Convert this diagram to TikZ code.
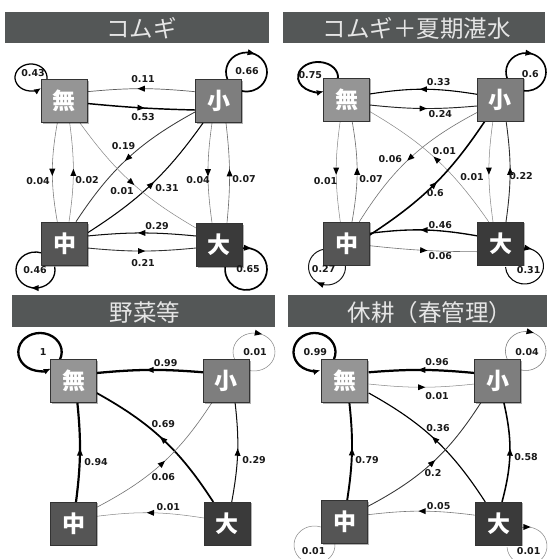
\documentclass[tikz,border=0pt]{standalone}
\usepackage{fontspec}
\setmainfont{DejaVu Sans}
\newfontfamily\jp{Noto Sans CJK JP}
\usetikzlibrary{calc,arrows.meta,decorations.markings,shadows}
\pgfdeclarelayer{background}
\pgfsetlayers{background,main}
\definecolor{barc}{HTML}{545757}
\definecolor{cmu}{HTML}{959595}
\definecolor{csho}{HTML}{7E7E7E}
\definecolor{cchu}{HTML}{555555}
\definecolor{cdai}{HTML}{3A3A3A}
\tikzset{
  wt/.code={\pgfmathsetmacro\wtc{min(100,45+170*#1)}\pgfmathsetmacro\wtw{0.5+1.8*#1}%
    \edef\wttmp{\noexpand\pgfkeysalso{line width=\wtw pt,draw=black!\wtc}}\wttmp},
  midarr/.style={postaction={decorate},decoration={markings,
    mark=at position #1 with {\fill[black,draw=none] (3.6pt,0pt) -- (-3.6pt,3pt) -- (-3.6pt,-3pt) -- cycle;}}},
  ed/.style={wt=#1,midarr=0.5},
  endarr/.style={-{Latex[length=7pt 0,width=6pt 0,color=black]}},
  nbox/.style={fill=#1,draw=black!80,line width=0.6pt,minimum width=46pt,minimum height=43pt,
    inner sep=0pt,text=white,font=\jp\bfseries\fontsize{23}{23}\selectfont,
    drop shadow={shadow xshift=1.5pt,shadow yshift=-1.5pt,opacity=0.3,fill=black}},
  lbl/.style={inner sep=0pt,text=black!90,font=\bfseries\fontsize{9.5}{9.5}\selectfont},
  tbar/.style={fill=barc,draw=none},
  ttl/.style={anchor=base,inner sep=0pt,text=black!10,font=\jp\fontsize{23.5}{23.5}\selectfont}
}
% edge: weight, from node, offset, to node, offset, bend
\newcommand\Ed[6]{\draw[ed=#1] ($(#2)+(#3)$) to[bend right=#6] ($(#4)+(#5)$);}
% loop with mid arrow: weight, node, center offset, rx, ry, t0, t1, pos
\newcommand\LpM[8]{\draw[wt=#1,midarr=#8] ($(#2)+(#3)$) ++(#6:#4pt and #5pt)
  arc[start angle=#6,end angle=#7,x radius=#4pt,y radius=#5pt];}
% loop with end arrow
\newcommand\LpE[7]{\draw[wt=#1,endarr] ($(#2)+(#3)$) ++(#6:#4pt and #5pt)
  arc[start angle=#6,end angle=#7,x radius=#4pt,y radius=#5pt];}
\begin{document}
\begin{tikzpicture}[x=1pt,y=-1pt]
\useasboundingbox (0,0) rectangle (547,559);
% ---------- title bars ----------
\node[tbar,minimum width=264pt,minimum height=31pt,inner sep=0pt] (b1) at (137,27.5) {};
\node[tbar,minimum width=262pt,minimum height=31pt,inner sep=0pt] (b2) at (414,27.5) {};
\node[tbar,minimum width=263pt,minimum height=32pt,inner sep=0pt] (b3) at (143.5,311) {};
\node[tbar,minimum width=259pt,minimum height=32pt,inner sep=0pt] (b4) at (417.5,311) {};
\node[ttl] (t1) at (141.5,37.5) {コムギ};
\node[ttl] (t2) at (416.5,37.5) {コムギ＋夏期湛水};
\node[ttl] (t3) at (145,321.5) {野菜等};
\node[ttl] (t4) at (430,321.5) {休耕（春管理）};
% ---------- nodes ----------
\node[nbox=cmu]  (am) at (64,101) {無};
\node[nbox=csho] (as) at (218.5,101) {小};
\node[nbox=cchu] (ac) at (64.5,244) {中};
\node[nbox=cdai] (ad) at (219,244.7) {大};
\node[nbox=cmu]  (bm) at (346.7,99.5) {無};
\node[nbox=csho] (bs) at (500,99.5) {小};
\node[nbox=cchu] (bc) at (346.7,243.3) {中};
\node[nbox=cdai] (bd) at (500.7,243.3) {大};
\node[nbox=cmu]  (cm) at (73.7,380.8) {無};
\node[nbox=csho] (cs) at (226.3,380.8) {小};
\node[nbox=cchu] (cc) at (73.7,523.3) {中};
\node[nbox=cdai] (cd) at (227,523.3) {大};
\node[nbox=cmu]  (dm) at (344.5,380.5) {無};
\node[nbox=csho] (ds) at (497.5,380.5) {小};
\node[nbox=cchu] (dc) at (344.7,522.2) {中};
\node[nbox=cdai] (dd) at (498.7,523.3) {大};
% ---------- edges ----------
\begin{pgfonlayer}{background}
\fill[white] (0,0) rectangle (547,559);
% panel 1
\Ed{0.11}{as}{-23.5,-9.3}{am}{23.3,-9.3}{5.5}
\Ed{0.53}{am}{23.3,2.5}{as}{-23.5,9}{2}
\Ed{0.04}{am}{-6.7,22}{ac}{-7.2,-22.3}{10}
\Ed{0.02}{ac}{4.5,-22.3}{am}{5.7,22}{8}
\Ed{0.19}{as}{-23.5,11}{ac}{11.5,-22.3}{14}
\Ed{0.31}{ac}{22.8,-11}{as}{-15.5,22}{11}
\Ed{0.01}{am}{16,22}{ad}{-23,-16.7}{12}
\Ed{0.04}{as}{-6.5,22}{ad}{-7,-22}{8}
\Ed{0.07}{ad}{8,-22}{as}{7.5,22}{6}
\Ed{0.29}{ad}{-23,-8.7}{ac}{22.8,-8}{5.5}
\Ed{0.21}{ac}{22.8,4}{ad}{-23,3.3}{5.5}
\LpE{0.43}{am}{-33,-23.5}{16}{13.5}{-6.4}{308.7}
\LpM{0.66}{as}{28,-29}{20.5}{19.5}{201}{-102.7}{0.41}
\LpM{0.46}{ac}{-29,26}{19.5}{18}{10.6}{-288.5}{0.34}
\LpM{0.65}{ad}{27,24.3}{21}{21}{100}{-186.3}{0.05}
% panel 2
\Ed{0.33}{bs}{-23,-5.2}{bm}{23,-5.5}{9}
\Ed{0.24}{bm}{23,5.5}{bs}{-23,6.5}{5.5}
\Ed{0.01}{bm}{-6.4,21}{bc}{-6.4,-21.5}{8}
\Ed{0.07}{bc}{5.3,-21.5}{bm}{5.3,21}{10}
\Ed{0.06}{bs}{-23,13}{bc}{12.6,-21.5}{15}
\Ed{0.01}{bd}{-12,-21.5}{bm}{23,12}{12.5}
\Ed{0.6}{bc}{23,-8.3}{bs}{-14.7,21}{11.6}
\Ed{0.01}{bs}{-7,21}{bd}{-7.7,-21.5}{8}
\Ed{0.22}{bd}{5.3,-21.5}{bs}{6,21}{8}
\Ed{0.46}{bd}{-22.7,-7.3}{bc}{23,-10}{8.5}
\Ed{0.06}{bc}{23,2.4}{bd}{-22.7,8.4}{3}
\LpE{0.75}{bm}{-28.7,-22.5}{20}{15}{-7.7}{286.6}
\LpM{0.6}{bs}{26,-27.5}{20}{19}{201.6}{-99.5}{0.40}
\LpM{0.27}{bc}{-19.7,23.7}{18.5}{18}{6.4}{-259.7}{0.445}
\LpM{0.31}{bd}{23.8,22.7}{19}{18}{95.4}{-176.8}{0.06}
% panel 3
\Ed{0.99}{cs}{-23,-8.5}{cm}{23,-7.8}{5}
\Ed{0.69}{cd}{-13.7,-21.3}{cm}{23,12.2}{14}
\Ed{0.94}{cc}{2.3,-21.3}{cm}{3.6,21.2}{6.5}
\Ed{0.06}{cc}{23,-16}{cs}{-14,21.2}{14.7}
\Ed{0.29}{cd}{4.7,-21.3}{cs}{8.7,21.2}{8.5}
\Ed{0.01}{cd}{-23,-5.3}{cc}{23,-7}{8}
\LpE{1}{cm}{-33.7,-28.8}{21.7}{19}{-23.9}{299.5}
\LpM{0.01}{cs}{27.7,-28.8}{21}{19}{203.9}{-103}{0.41}
% panel 4
\Ed{0.96}{ds}{-22.8,-7.5}{dm}{24.2,-8.2}{5}
\Ed{0.01}{dm}{24.2,3.5}{ds}{-22.8,3.5}{6}
\Ed{0.36}{dd}{-13.4,-21.3}{dm}{24.2,12.5}{14}
\Ed{0.79}{dc}{2.3,-20.9}{dm}{4.8,21.5}{7.5}
\Ed{0.2}{dc}{23.3,-15.9}{ds}{-16.2,21.5}{14.8}
\Ed{0.58}{dd}{3.3,-21.3}{ds}{6.2,21.5}{14}
\Ed{0.05}{dd}{-22.7,-8}{dc}{23.3,-7.5}{7}
\LpE{0.99}{dm}{-30,-28.5}{21}{19}{-21.6}{286}
\LpM{0.04}{ds}{28.2,-29.5}{20.3}{19.5}{204.2}{-105.4}{0.41}
\LpM{0.01}{dc}{-30.2,22.8}{20.5}{19}{6}{-289.4}{0.34}
\LpM{0.01}{dd}{28.3,22.7}{20}{19}{106.6}{-176.4}{0.06}
\end{pgfonlayer}
% ---------- labels ----------
\node[lbl] (a1) at (143,79) {0.11};
\node[lbl] (a2) at (143,117.5) {0.53};
\node[lbl] (a3) at (38,181) {0.04};
\node[lbl] (a4) at (87,180) {0.02};
\node[lbl] (a5) at (123.5,146) {0.19};
\node[lbl] (a6) at (167,188) {0.31};
\node[lbl] (a7) at (122,191) {0.01};
\node[lbl] (a8) at (198,180) {0.04};
\node[lbl] (a9) at (244,179) {0.07};
\node[lbl] (a10) at (157,226) {0.29};
\node[lbl] (a11) at (143,263) {0.21};
\node[lbl] (a12) at (33,73) {0.43};
\node[lbl] (a13) at (247,71) {0.66};
\node[lbl] (a14) at (35,270) {0.46};
\node[lbl] (a15) at (248,269) {0.65};
\node[lbl] (b1l) at (438.7,81.7) {0.33};
\node[lbl] (b2l) at (440.3,114.3) {0.24};
\node[lbl] (b3l) at (325.5,181) {0.01};
\node[lbl] (b4l) at (371,179) {0.07};
\node[lbl] (b5l) at (390.3,159.3) {0.06};
\node[lbl] (b6l) at (444.3,150.7) {0.01};
\node[lbl] (b7l) at (435.3,192.7) {0.6};
\node[lbl] (b8l) at (472,177) {0.01};
\node[lbl] (b9l) at (521,176) {0.22};
\node[lbl] (b10l) at (440.3,225) {0.46};
\node[lbl] (b11l) at (440.3,256) {0.06};
\node[lbl] (b12l) at (310.3,75) {0.75};
\node[lbl] (b13l) at (530.3,74) {0.6};
\node[lbl] (b14l) at (323.7,269) {0.27};
\node[lbl] (b15l) at (528.7,270) {0.31};
\node[lbl] (c1l) at (165.7,363) {0.99};
\node[lbl] (c2l) at (163.3,423.7) {0.69};
\node[lbl] (c3l) at (96,462.3) {0.94};
\node[lbl] (c4l) at (163.3,477.3) {0.06};
\node[lbl] (c5l) at (254,459.7) {0.29};
\node[lbl] (c6l) at (168.3,507.3) {0.01};
\node[lbl] (c7l) at (43.3,352) {1};
\node[lbl] (c8l) at (255,352) {0.01};
\node[lbl] (d1l) at (437,362.3) {0.96};
\node[lbl] (d2l) at (437,396.3) {0.01};
\node[lbl] (d3l) at (438,428) {0.36};
\node[lbl] (d4l) at (367,459.7) {0.79};
\node[lbl] (d5l) at (433,473) {0.2};
\node[lbl] (d6l) at (526,457.3) {0.58};
\node[lbl] (d7l) at (438.7,505.7) {0.05};
\node[lbl] (d8l) at (315.3,352) {0.99};
\node[lbl] (d9l) at (527,352) {0.04};
\node[lbl] (d10l) at (313.7,551.3) {0.01};
\node[lbl] (d11l) at (528.7,550.7) {0.01};
\end{tikzpicture}
\end{document}
